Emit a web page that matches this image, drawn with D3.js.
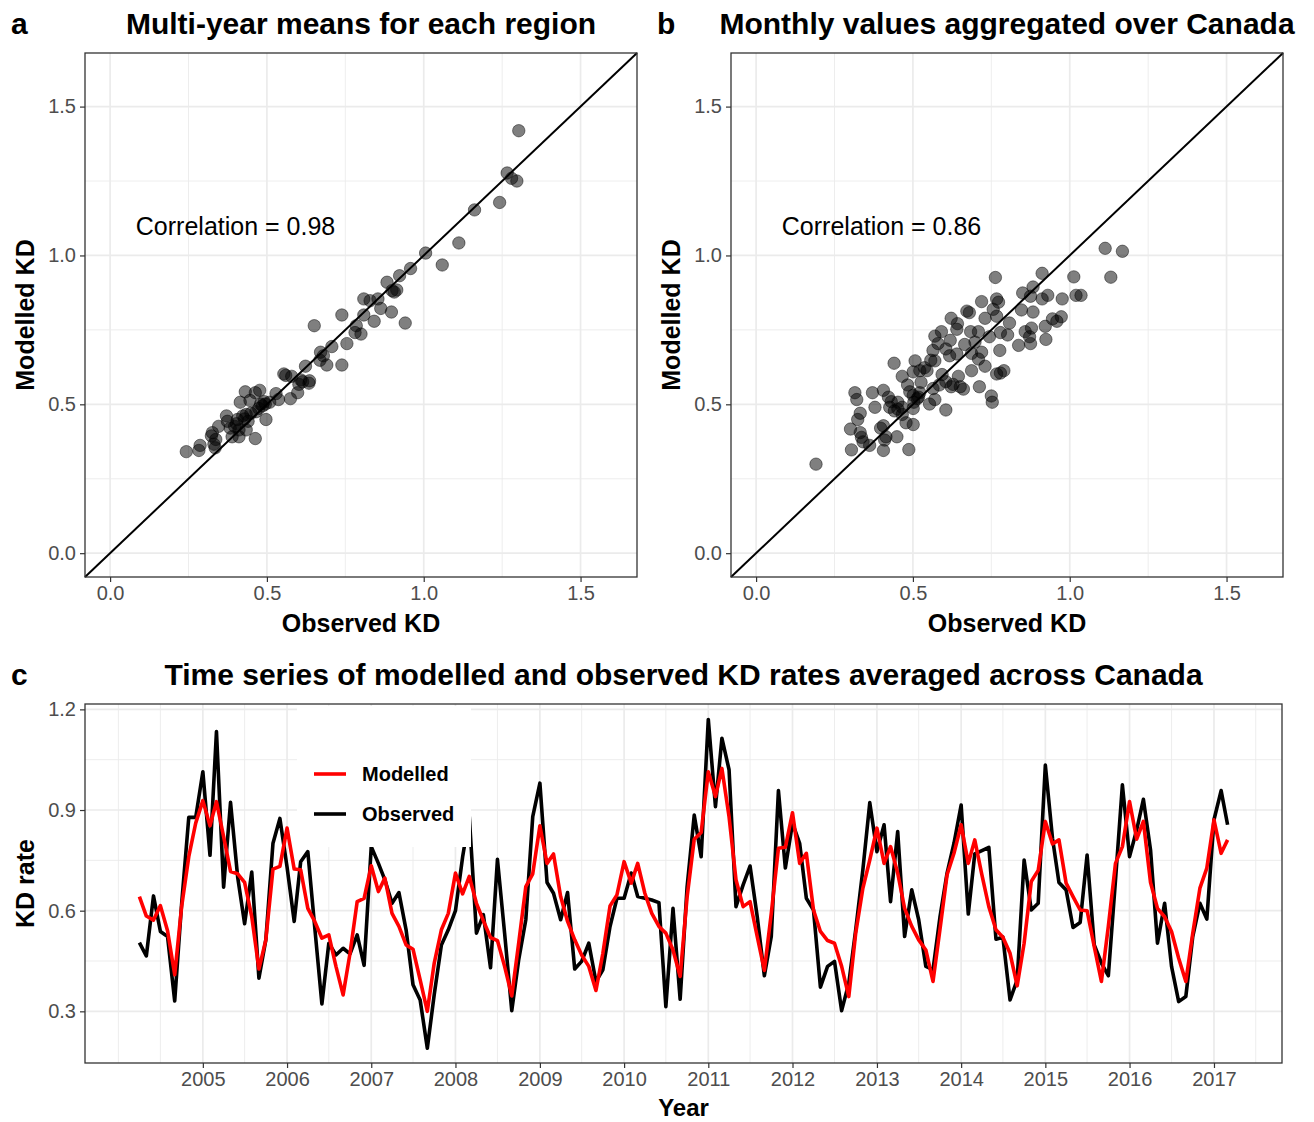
<!DOCTYPE html>
<html>
<head>
<meta charset="utf-8">
<script src="https://cdn.jsdelivr.net/npm/d3@7"></script>
<style>
  body { margin: 0; background: #fff; }
  svg { font-family: "Liberation Sans", Arial, Helvetica, sans-serif; }
  .tick text { fill: #4d4d4d; font-size: 20px; }
  .tick line { stroke: #333; stroke-width: 1.2; }
  .domain { display: none; }
</style>
</head>
<body>
<script>
// panel a: multi-year means per region
const regionObs = [1.303,1.266,1.28,1.297,1.242,1.162,1.112,1.006,1.059,0.958,0.923,0.883,0.899,0.914,0.906,0.809,0.854,0.829,0.863,0.897,0.809,0.739,0.842,0.941,0.651,0.785,0.781,0.8,0.755,0.707,0.671,0.68,0.669,0.691,0.739,0.623,0.554,0.56,0.579,0.608,0.614,0.636,0.634,0.602,0.598,0.575,0.529,0.537,0.509,0.495,0.486,0.477,0.463,0.431,0.415,0.446,0.474,0.497,0.465,0.449,0.434,0.423,0.406,0.371,0.374,0.397,0.383,0.346,0.411,0.434,0.44,0.463,0.411,0.389,0.326,0.323,0.337,0.331,0.335,0.287,0.283,0.243,0.48,0.491,0.403,0.429]
const regionMod = [1.419,1.277,1.259,1.25,1.178,1.153,1.042,1.008,0.968,0.956,0.932,0.91,0.882,0.884,0.877,0.854,0.854,0.848,0.822,0.81,0.8,0.8,0.779,0.773,0.764,0.764,0.741,0.736,0.704,0.694,0.675,0.663,0.648,0.632,0.632,0.628,0.602,0.597,0.594,0.582,0.576,0.579,0.571,0.567,0.539,0.519,0.536,0.516,0.507,0.501,0.495,0.547,0.539,0.542,0.507,0.513,0.486,0.449,0.475,0.47,0.466,0.461,0.449,0.461,0.443,0.426,0.42,0.426,0.414,0.414,0.443,0.385,0.391,0.391,0.405,0.394,0.382,0.366,0.354,0.362,0.345,0.341,0.501,0.509,0.435,0.451]

// panel b: monthly values aggregated over Canada
const monthlyObs = [0.191,1.113,1.168,1.131,1.013,1.02,1.036,0.976,0.912,0.883,0.85,0.875,0.912,0.93,0.763,0.767,0.773,0.719,0.756,0.846,0.883,0.68,0.672,0.73,0.767,0.945,0.959,0.973,0.622,0.642,0.64,0.684,0.709,0.808,0.779,0.802,0.858,0.878,0.922,0.872,0.924,0.875,0.837,0.744,0.698,0.665,0.591,0.57,0.58,0.619,0.564,0.605,0.64,0.687,0.719,0.777,0.709,0.73,0.687,0.767,0.79,0.779,0.617,0.557,0.57,0.507,0.44,0.537,0.522,0.501,0.545,0.466,0.593,0.645,0.605,0.628,0.651,0.661,0.622,0.584,0.526,0.483,0.49,0.522,0.564,0.712,0.75,0.753,0.315,0.321,0.371,0.406,0.422,0.431,0.452,0.426,0.441,0.452,0.501,0.514,0.503,0.518,0.553,0.57,0.605,0.501,0.466,0.379,0.332,0.324,0.466,0.478,0.501,0.301,0.332,0.406,0.397,0.449,0.414,0.336,0.341,0.362,0.41,0.304,0.406,0.487]
const monthlyMod = [0.299,1.024,1.014,0.927,0.928,0.866,0.866,0.854,0.94,0.894,0.874,0.863,0.854,0.866,0.926,0.854,0.843,0.845,0.819,0.817,0.81,0.808,0.813,0.789,0.796,0.787,0.779,0.794,0.789,0.771,0.752,0.744,0.744,0.773,0.741,0.733,0.744,0.756,0.762,0.727,0.718,0.704,0.698,0.727,0.709,0.701,0.744,0.729,0.704,0.715,0.681,0.686,0.669,0.671,0.675,0.681,0.652,0.628,0.613,0.602,0.613,0.605,0.663,0.648,0.646,0.646,0.638,0.623,0.613,0.609,0.613,0.594,0.6,0.594,0.576,0.567,0.559,0.551,0.559,0.565,0.574,0.565,0.542,0.539,0.553,0.559,0.528,0.507,0.539,0.516,0.539,0.547,0.524,0.509,0.507,0.49,0.478,0.484,0.53,0.519,0.507,0.524,0.501,0.516,0.481,0.486,0.49,0.49,0.47,0.449,0.466,0.438,0.432,0.417,0.405,0.428,0.42,0.391,0.391,0.389,0.374,0.362,0.38,0.347,0.345,0.348]

// panel c: monthly series, April 2004 to March 2017
const seriesStart = new Date(2004, 3, 1)
const observed = [
  0.505,0.465,0.644,0.538,0.523,0.331,0.62,0.878,0.878,
  1.014,0.765,1.134,0.67,0.923,0.70,0.561,0.715,0.399,0.513,0.801,0.875,
  0.73,0.568,0.746,0.776,0.55,0.322,0.503,0.468,0.488,0.471,0.528,0.437,
  0.791,0.741,0.692,0.622,0.654,0.543,0.379,0.334,0.19,0.35,0.498,0.543,
  0.60,0.76,0.88,0.533,0.588,0.43,0.753,0.533,0.302,0.453,0.573,0.88,
  0.98,0.684,0.652,0.573,0.654,0.426,0.449,0.503,0.389,0.424,0.553,0.637,
  0.637,0.712,0.642,0.637,0.632,0.624,0.314,0.607,0.336,0.67,0.885,0.761,
  1.17,0.91,1.114,1.02,0.612,0.677,0.733,0.583,0.406,0.523,0.958,0.727,
  0.861,0.801,0.637,0.602,0.372,0.434,0.449,0.302,0.384,0.543,0.722,0.922,
  0.776,0.856,0.627,0.836,0.523,0.662,0.573,0.434,0.424,0.58,0.712,0.801,
  0.915,0.59,0.769,0.779,0.789,0.515,0.521,0.334,0.394,0.751,0.602,0.622,
  1.034,0.816,0.684,0.662,0.55,0.565,0.766,0.498,0.444,0.406,0.69,0.975,
  0.761,0.841,0.932,0.781,0.503,0.622,0.434,0.329,0.344,0.523,0.622,0.575,
  0.871,0.958,0.856
]
const modelled = [
  0.642,0.584,0.572,0.615,0.54,0.409,0.612,0.761,0.861,
  0.928,0.853,0.925,0.821,0.717,0.71,0.684,0.582,0.426,0.513,0.724,0.732,
  0.846,0.724,0.722,0.607,0.568,0.518,0.528,0.434,0.349,0.473,0.627,0.637,
  0.734,0.657,0.697,0.592,0.553,0.498,0.485,0.394,0.30,0.444,0.543,0.592,
  0.712,0.65,0.702,0.622,0.57,0.52,0.511,0.434,0.346,0.503,0.672,0.71,
  0.853,0.741,0.769,0.642,0.568,0.513,0.468,0.434,0.362,0.473,0.614,0.647,
  0.746,0.682,0.741,0.652,0.592,0.553,0.533,0.483,0.404,0.64,0.813,0.833,
  1.014,0.94,1.024,0.88,0.692,0.612,0.627,0.523,0.422,0.592,0.786,0.789,
  0.892,0.741,0.771,0.602,0.538,0.511,0.503,0.434,0.344,0.533,0.667,0.751,
  0.846,0.741,0.791,0.712,0.607,0.553,0.513,0.483,0.389,0.543,0.707,0.771,
  0.856,0.741,0.811,0.707,0.612,0.543,0.521,0.473,0.376,0.503,0.687,0.72,
  0.866,0.799,0.811,0.682,0.642,0.602,0.60,0.493,0.389,0.553,0.741,0.791,
  0.925,0.813,0.866,0.684,0.607,0.582,0.538,0.458,0.389,0.533,0.667,0.727,
  0.871,0.771,0.811
]
const yearTicks = [2005,2006,2007,2008,2009,2010,2011,2012,2013,2014,2015,2016,2017]
const kdTicks = [0.3, 0.6, 0.9, 1.2]
const kdMinor = [0.45, 0.75, 1.05]
const scatterTicks = [0, 0.5, 1.0, 1.5]
const scatterMinor = [0.25, 0.75, 1.25]

const W = 1314
const H = 1122
const gridCol = '#ebebeb'

const svg = d3.select('body')
              .append('svg')
              .attr('width', W)
              .attr('height', H)

const bold = (sel) => sel.attr('font-weight', 'bold').attr('fill', '#000')

drawScatter = (left, right, obs, mod, letter, letterX, title, corr) => {
  const pTop = 53
  const pBottom = 577
  const lim = [-0.08, 1.68]
  const x = d3.scaleLinear().domain(lim).range([left, right])
  const y = d3.scaleLinear().domain(lim).range([pBottom, pTop])
  const g = svg.append('g')

  //grid lines, minor then major
  scatterMinor.forEach(d => {
    g.append('line').attr('x1', x(d)).attr('x2', x(d)).attr('y1', pTop).attr('y2', pBottom)
      .attr('stroke', gridCol).attr('stroke-width', 0.9)
    g.append('line').attr('x1', left).attr('x2', right).attr('y1', y(d)).attr('y2', y(d))
      .attr('stroke', gridCol).attr('stroke-width', 0.9)
  })
  scatterTicks.forEach(d => {
    g.append('line').attr('x1', x(d)).attr('x2', x(d)).attr('y1', pTop).attr('y2', pBottom)
      .attr('stroke', gridCol).attr('stroke-width', 1.7)
    g.append('line').attr('x1', left).attr('x2', right).attr('y1', y(d)).attr('y2', y(d))
      .attr('stroke', gridCol).attr('stroke-width', 1.7)
  })

  //1:1 line
  g.append('line')
    .attr('x1', x(lim[0])).attr('y1', y(lim[0]))
    .attr('x2', x(lim[1])).attr('y2', y(lim[1]))
    .attr('stroke', '#000').attr('stroke-width', 2)

  g.selectAll('circle')
    .data(obs.map((o, i) => [o, mod[i]]))
    .enter()
    .append('circle')
    .attr('cx', d => x(d[0]))
    .attr('cy', d => y(d[1]))
    .attr('r', 6.2)
    .attr('fill', 'rgba(0,0,0,0.5)')
    .attr('stroke', 'rgba(0,0,0,0.45)')
    .attr('stroke-width', 1)

  g.append('text')
    .attr('x', x(0.4)).attr('y', y(1.1) + 9)
    .attr('text-anchor', 'middle')
    .attr('font-size', 25)
    .attr('fill', '#000')
    .text(corr)

  g.append('rect')
    .attr('x', left).attr('y', pTop)
    .attr('width', right - left).attr('height', pBottom - pTop)
    .attr('fill', 'none').attr('stroke', '#333').attr('stroke-width', 1.3)

  g.append('g')
    .attr('transform', 'translate(' + left + ',0)')
    .call(d3.axisLeft(y).tickValues(scatterTicks).tickFormat(d3.format('.1f')).tickSize(5).tickPadding(4))
  g.append('g')
    .attr('transform', 'translate(0,' + pBottom + ')')
    .call(d3.axisBottom(x).tickValues(scatterTicks).tickFormat(d3.format('.1f')).tickSize(5).tickPadding(4))

  g.append('text').call(bold)
    .attr('x', (left + right) / 2).attr('y', 632)
    .attr('text-anchor', 'middle').attr('font-size', 25)
    .text('Observed KD')
  g.append('text').call(bold)
    .attr('transform', 'translate(' + (left - 51) + ',' + ((pTop + pBottom) / 2) + ') rotate(-90)')
    .attr('text-anchor', 'middle').attr('font-size', 25)
    .text('Modelled KD')
  g.append('text').call(bold)
    .attr('x', (left + right) / 2).attr('y', 34)
    .attr('text-anchor', 'middle').attr('font-size', 30)
    .text(title)
  g.append('text').call(bold)
    .attr('x', letterX).attr('y', 34)
    .attr('font-size', 30)
    .text(letter)
}

drawScatter(85, 637, regionObs, regionMod, 'a', 11, 'Multi-year means for each region', 'Correlation = 0.98')
drawScatter(731, 1283, monthlyObs, monthlyMod, 'b', 657, 'Monthly values aggregated over Canada', 'Correlation = 0.86')

// time series panel
const cLeft = 85
const cRight = 1282
const cTop = 704
const cBottom = 1063

const dates = observed.map((d, i) => d3.timeMonth.offset(seriesStart, i))
const span = dates[dates.length - 1] - dates[0]
const xScale = d3.scaleTime()
                 .domain([new Date(+dates[0] - span * 0.05), new Date(+dates[dates.length - 1] + span * 0.05)])
                 .range([cLeft, cRight])
const yScale = d3.scaleLinear()
                 .domain([0.146, 1.216])
                 .range([cBottom, cTop])

const majorDates = yearTicks.map(yr => new Date(yr, 0, 1))
const minorDates = d3.timeMonth.every(6).range(...xScale.domain())
                     .filter(d => !yearTicks.includes(d.getFullYear()) || d.getMonth() !== 0)

const c = svg.append('g')

minorDates.forEach(d => {
  c.append('line').attr('x1', xScale(d)).attr('x2', xScale(d)).attr('y1', cTop).attr('y2', cBottom)
    .attr('stroke', gridCol).attr('stroke-width', 0.9)
})
kdMinor.forEach(d => {
  c.append('line').attr('x1', cLeft).attr('x2', cRight).attr('y1', yScale(d)).attr('y2', yScale(d))
    .attr('stroke', gridCol).attr('stroke-width', 0.9)
})
majorDates.forEach(d => {
  c.append('line').attr('x1', xScale(d)).attr('x2', xScale(d)).attr('y1', cTop).attr('y2', cBottom)
    .attr('stroke', gridCol).attr('stroke-width', 1.7)
})
kdTicks.forEach(d => {
  c.append('line').attr('x1', cLeft).attr('x2', cRight).attr('y1', yScale(d)).attr('y2', yScale(d))
    .attr('stroke', gridCol).attr('stroke-width', 1.7)
})

const line = (vals) => d3.line()
  .x((d, i) => xScale(dates[i]))
  .y(d => yScale(d))(vals)

c.append('path')
  .attr('d', line(observed))
  .attr('fill', 'none').attr('stroke', '#000').attr('stroke-width', 3.6)
  .attr('stroke-linejoin', 'round')
c.append('path')
  .attr('d', line(modelled))
  .attr('fill', 'none').attr('stroke', '#ff0000').attr('stroke-width', 3.6)
  .attr('stroke-linejoin', 'round')

//legend
const legend = c.append('g')
legend.append('rect')
  .attr('x', 297).attr('y', 706).attr('width', 174).attr('height', 141)
  .attr('fill', '#fff')
const keys = [['Modelled', '#ff0000', 774], ['Observed', '#000', 814]]
keys.forEach(k => {
  legend.append('line').attr('x1', 314).attr('x2', 346).attr('y1', k[2]).attr('y2', k[2])
    .attr('stroke', k[1]).attr('stroke-width', 3.6)
  legend.append('text').call(bold)
    .attr('x', 362).attr('y', k[2] + 7)
    .attr('font-size', 20)
    .text(k[0])
})

c.append('rect')
  .attr('x', cLeft).attr('y', cTop)
  .attr('width', cRight - cLeft).attr('height', cBottom - cTop)
  .attr('fill', 'none').attr('stroke', '#333').attr('stroke-width', 1.3)

c.append('g')
  .attr('transform', 'translate(' + cLeft + ',0)')
  .call(d3.axisLeft(yScale).tickValues(kdTicks).tickFormat(d3.format('.1f')).tickSize(5).tickPadding(4))
c.append('g')
  .attr('transform', 'translate(0,' + cBottom + ')')
  .call(d3.axisBottom(xScale).tickValues(majorDates).tickFormat(d3.timeFormat('%Y')).tickSize(5).tickPadding(4))

c.append('text').call(bold)
  .attr('x', (cLeft + cRight) / 2).attr('y', 1116)
  .attr('text-anchor', 'middle').attr('font-size', 24)
  .text('Year')
c.append('text').call(bold)
  .attr('transform', 'translate(34,' + ((cTop + cBottom) / 2) + ') rotate(-90)')
  .attr('text-anchor', 'middle').attr('font-size', 25)
  .text('KD rate')
c.append('text').call(bold)
  .attr('x', (cLeft + cRight) / 2).attr('y', 685)
  .attr('text-anchor', 'middle').attr('font-size', 30)
  .text('Time series of modelled and observed KD rates averaged across Canada')
c.append('text').call(bold)
  .attr('x', 11).attr('y', 685)
  .attr('font-size', 30)
  .text('c')
</script>
</body>
</html>
